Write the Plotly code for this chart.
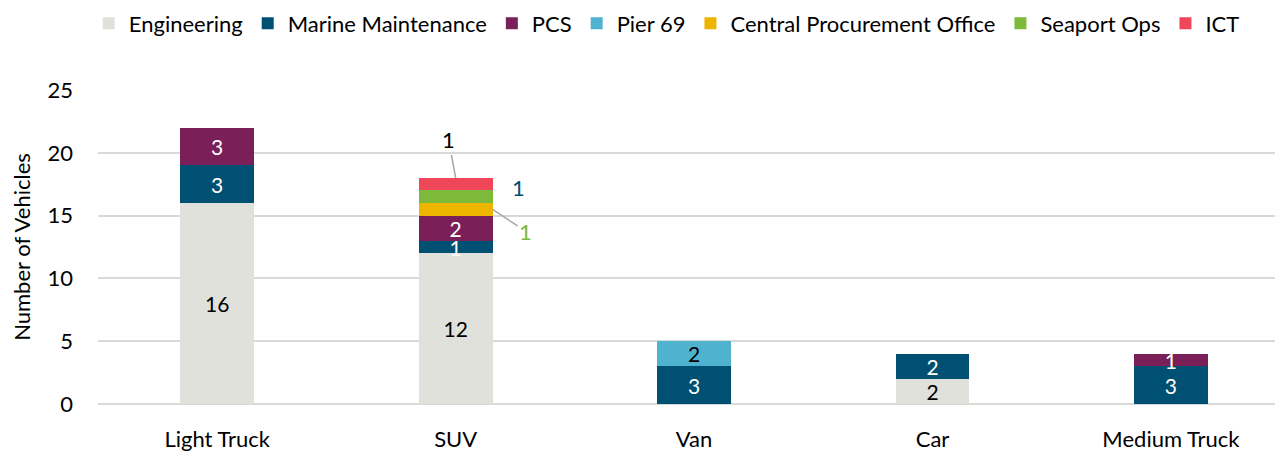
import plotly.graph_objects as go

categories = ["Light Truck", "SUV", "Van", "Car", "Medium Truck"]
series_names = ["Engineering", "Marine Maintenance", "PCS", "Pier 69",
                "Central Procurement Office", "Seaport Ops", "ICT"]
engineering = [16, 12, 0, 2, 0]
marine_maintenance = [3, 1, 3, 2, 3]
pcs = [3, 2, 0, 0, 1]
pier_69 = [0, 0, 2, 0, 0]
central_procurement = [0, 1, 0, 0, 0]
seaport_ops = [0, 1, 0, 0, 0]
ict = [0, 1, 0, 0, 0]
y_ticks = [0, 5, 10, 15, 20, 25]

series_values = [engineering, marine_maintenance, pcs, pier_69,
                 central_procurement, seaport_ops, ict]
colors = ["#E1E1DC", "#005073", "#7A1F57", "#4FB3D0", "#EEB500", "#7DB93A", "#F0465A"]
text_colors = ["#000000", "#FFFFFF", "#FFFFFF", "#000000", "#000000", "#000000", "#000000"]
inside_labels = [True, True, True, True, False, False, False]

FONT = "Lato"
BAR_W = 0.31
fig = go.Figure()
for name, vals, col, tc, inside in zip(series_names, series_values, colors, text_colors, inside_labels):
    txt = [str(v) if (v and inside) else "" for v in vals]
    fig.add_trace(go.Bar(
        name=name, x=categories, y=vals, marker=dict(color=col, line=dict(width=0)),
        text=txt, textposition="inside", insidetextanchor="middle",
        constraintext="none", textangle=0,
        insidetextfont=dict(color=tc, size=21, family=FONT),
        width=BAR_W, hoverinfo="x+y+name",
    ))

# external labels for the small SUV segments
suv_i = categories.index("SUV")
suv_top = sum(v[suv_i] for v in series_values)
fig.add_annotation(x=suv_i, y=suv_top, text="1", showarrow=True, arrowhead=0,
                   arrowcolor="#A6A6A6", arrowwidth=1.5, ax=-7, ay=-38,
                   font=dict(size=22, color="#000000", family=FONT))
fig.add_annotation(x=suv_i, y=suv_top - ict[suv_i] / 2, text="1",
                   showarrow=False, xshift=63, yshift=-3,
                   font=dict(size=22, color="#005073", family=FONT))
fig.add_annotation(x=suv_i + BAR_W / 2,
                   y=suv_top - ict[suv_i] - seaport_ops[suv_i] - central_procurement[suv_i] / 2,
                   text="1", showarrow=True, arrowhead=0, arrowcolor="#A6A6A6",
                   arrowwidth=1.5, ax=33, ay=22,
                   font=dict(size=22, color="#7DB93A", family=FONT))

fig.update_layout(
    barmode="stack", width=1275, height=444,
    margin=dict(l=90, r=0, t=82, b=48, autoexpand=False),
    plot_bgcolor="white", paper_bgcolor="white",
    font=dict(family=FONT, size=22, color="#000000"),
    legend=dict(orientation="h", x=0.48, xanchor="center",
                y=1.212, yanchor="middle",
                font=dict(size=22, family=FONT),
                itemwidth=30, tracegroupgap=0, traceorder="normal"),
)
fig.update_xaxes(range=[-0.5, 4.47], showgrid=False, showline=False,
                 ticks="", ticklabelstandoff=20, tickfont=dict(size=22), tickangle=0)
fig.update_yaxes(range=[0, 25], tickvals=y_ticks, showgrid=True, gridcolor="#D9D9D9",
                 gridwidth=1.5, zeroline=True, zerolinecolor="#D9D9D9", zerolinewidth=1.5,
                 ticklabelstandoff=24, tickfont=dict(size=22),
                 title=dict(text="Number of Vehicles", font=dict(size=22), standoff=10))

fig.write_html("out.html")
